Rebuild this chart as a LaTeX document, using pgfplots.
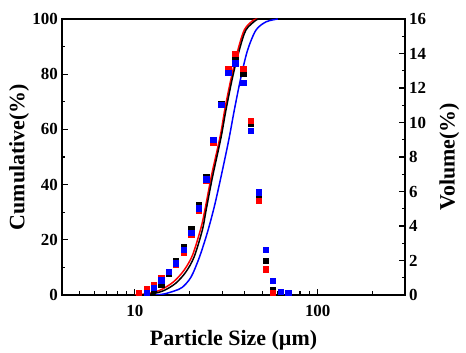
\documentclass[border=0pt]{standalone}
\usepackage{pgfplots}
\pgfplotsset{compat=1.18}
\usepackage{fontspec}
\setmainfont{Liberation Serif}
\begin{document}
\begin{tikzpicture}
\begin{axis}[xmode=log, scale only axis, width=343bp, height=276bp,
  xmin=4, xmax=300, ymin=0, ymax=100,
  major tick length=6bp, minor tick length=3.5bp,
  every tick/.style={draw=black, line width=1.1pt},
  every axis/.append style={line width=1.6pt},
  ytick={0,20,40,60,80,100}, yticklabels={0,20,40,60,80,100},
  minor ytick={10,30,50,70,90},
  xtick={10,100}, xticklabels={10,100},
  minor xtick={5,6,7,8,9,20,30,40,50,60,70,80,90,200,300},
  xtick pos=left, ytick pos=left,
  tick label style={font=\bfseries\fontsize{17}{17}\selectfont},
  label style={font=\bfseries\fontsize{22}{22}\selectfont},
  xticklabel style={yshift=-6bp},
  ylabel={Cumulative(\%)}, xlabel={Particle Size (\textmu m)},
  xlabel style={yshift=-6bp}, ylabel style={yshift=-4bp},
]
\addplot[red, line width=1.5pt, smooth] coordinates {
(10.0,0) (12.0,0.6) (14.0,2.0) (16.3,4.8) (18.6,9.0) (20.7,14.5) (23.0,24.3) (24.2,31) (26.3,43.5) (29.3,57.5) (31.2,68) (33.9,79.6) (36.8,89.3) (39.8,96.2) (44.5,99.6) (47,100)};
\addplot[black, line width=1.5pt, smooth] coordinates {
(10.5,0) (12.4,0.4) (14.4,1.6) (16.7,4.2) (19.0,8.3) (21.1,13.8) (23.4,23.5) (24.5,30.5) (26.6,42.8) (29.6,57) (31.5,67) (34.3,79.1) (37.3,88.8) (40.5,96) (46,99.6) (48,100)};
\addplot[blue, line width=1.5pt, smooth] coordinates {
(13.0,0) (14.5,0.4) (16.5,1.5) (18.2,2.8) (20.3,6.5) (22.5,13.5) (24.9,22.5) (27.2,32) (29.6,42.8) (32.6,56) (35,67) (38.1,79.1) (41.4,88.8) (46,96) (52.3,99) (60.5,100)};
\end{axis}
\begin{axis}[xmode=log, scale only axis, width=343bp, height=276bp,
  xmin=4, xmax=300, ymin=0, ymax=16,
  major tick length=6bp, minor tick length=3.5bp,
  every tick/.style={draw=black, line width=1.1pt},
  every axis/.append style={line width=1.6pt},
  ytick={0,2,4,6,8,10,12,14,16}, yticklabels={0,2,4,6,8,10,12,14,16},
  minor ytick={1,3,5,7,9,11,13,15},
  axis y line*=right, axis x line=none,
  tick label style={font=\bfseries\fontsize{17}{17}\selectfont},
  label style={font=\bfseries\fontsize{22}{22}\selectfont},
  ylabel={Volume(\%)},
  ylabel style={yshift=-6bp},
]
\addplot[only marks, mark=square*, mark size=2.4bp, black] coordinates {
(11.68,0.17) (12.72,0.29) (14.02,0.58) (15.38,1.25) (16.86,1.96) (18.59,2.79) (20.39,3.79) (22.39,5.20) (24.65,6.83) (26.93,8.90) (29.81,11.07) (32.55,12.96) (35.57,13.77) (39.36,12.81) (43.21,9.95) (47.59,5.78) (51.99,1.96) (57.1,0.29)};
\addplot[only marks, mark=square*, mark size=2.4bp, red] coordinates {
(10.52,0.10) (11.68,0.33) (12.72,0.58) (14.02,0.96) (15.38,1.35) (16.86,1.73) (18.59,2.47) (20.39,3.47) (22.39,4.87) (24.65,6.64) (26.93,8.80) (29.81,11.0) (32.55,13.1) (35.57,13.96) (39.36,13.11) (43.21,10.07) (47.59,5.45) (51.99,1.48) (57.1,0.13)};
\addplot[only marks, mark=square*, mark size=2.4bp, blue] coordinates {
(11.68,0.1) (12.72,0.40) (14.02,0.83) (15.38,1.33) (16.86,1.83) (18.59,2.6) (20.39,3.6) (22.39,5.01) (24.65,6.7) (26.93,9.0) (29.81,11.0) (32.55,12.86) (35.57,13.42) (39.36,12.29) (43.21,9.49) (47.59,5.95) (51.99,2.6) (57.1,0.81) (62.85,0.19) (69.3,0.13)};
\end{axis}
\pgfresetboundingbox
\path[use as bounding box] (-62bp,-58bp) rectangle (404bp,295bp);
\end{tikzpicture}
\end{document}
